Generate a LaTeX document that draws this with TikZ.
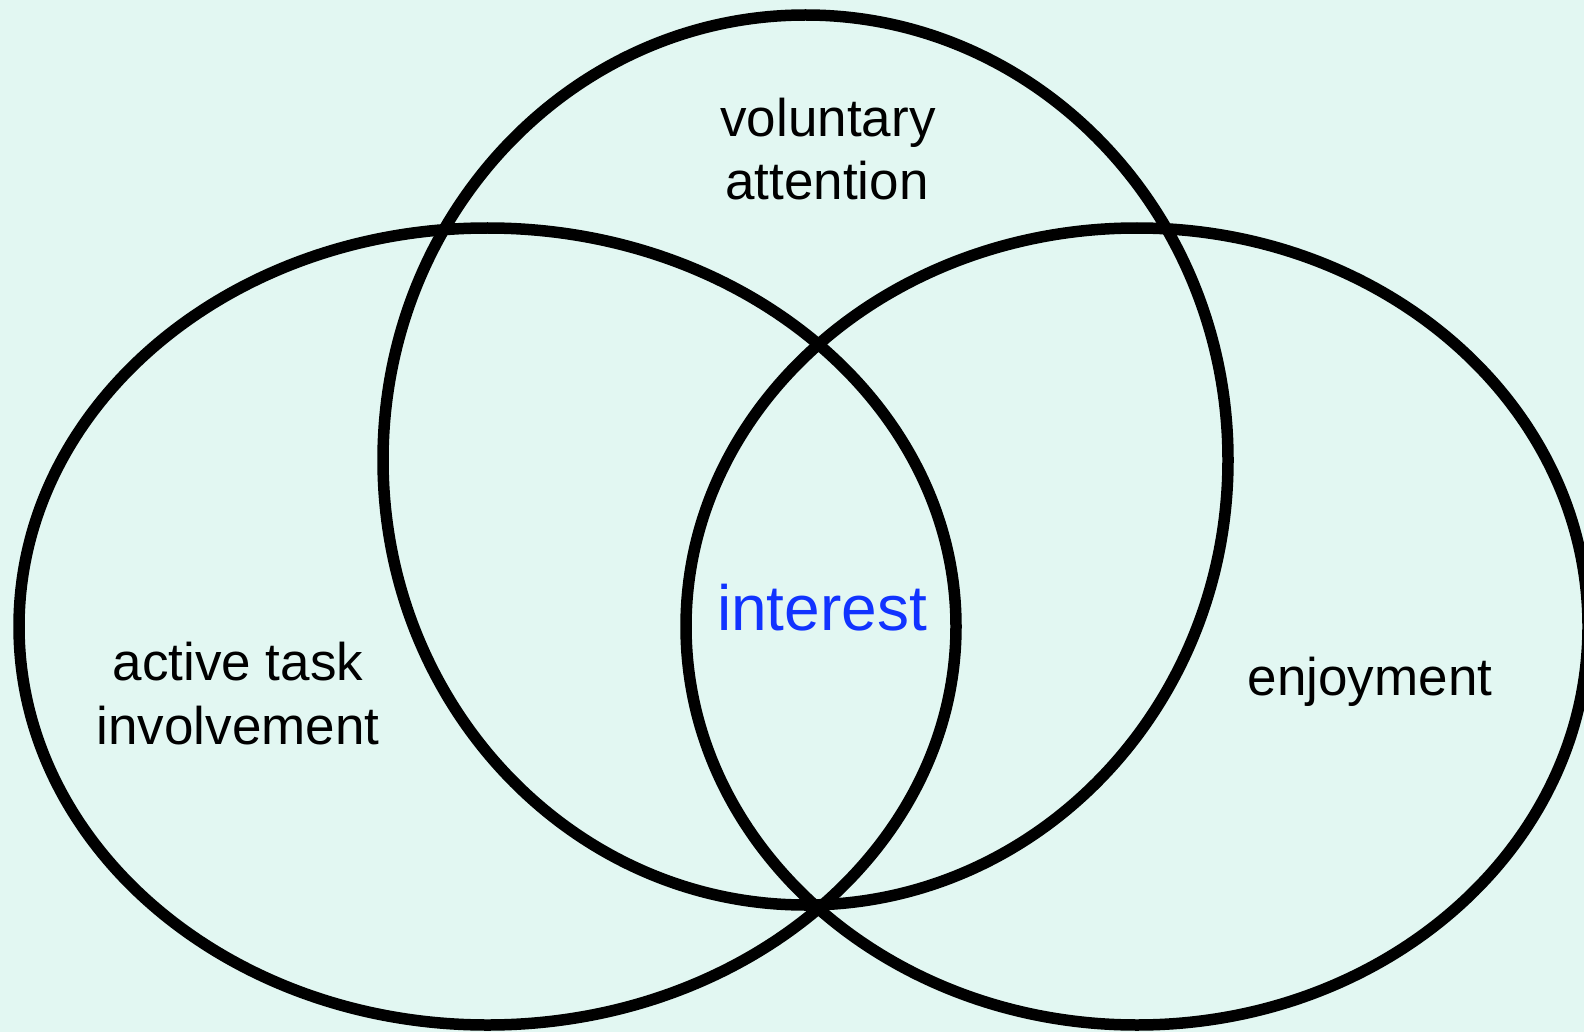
\documentclass[tikz,border=0pt]{standalone}
\usepackage{fontspec}
\setmainfont{Liberation Sans}
\definecolor{bgmint}{RGB}{226,247,242}
\definecolor{intblue}{RGB}{17,51,255}
\begin{document}
\begin{tikzpicture}[x=1pt,y=-1pt,
  ring/.style={draw=black,line width=11.5pt},
  lbl/.style={anchor=base,inner sep=0pt,font=\fontsize{53}{62}\selectfont,text=black},
  keylbl/.style={anchor=base,inner sep=0pt,font=\fontsize{64}{74}\selectfont,text=intblue}]
\fill[bgmint] (0,0) rectangle (1584,1032);
\useasboundingbox (0,0) rectangle (1584,1032);
\clip (0,0) rectangle (1584,1032);
\coordinate (cl) at (487.5,626.5);
\coordinate (cr) at (1137,626.5);
\coordinate (ct) at (805.5,460);
\draw[ring] (cl) ellipse [x radius=468.5, y radius=398.5];
\draw[ring] (cr) ellipse [x radius=451, y radius=398.5];
\draw[ring] (ct) ellipse [x radius=422.5, y radius=445];
\node[lbl] (v1) at (828,137) {voluntary};
\node[lbl] (v2) at (827,200) {attention};
\node[lbl] (a1) at (238,680) {active task};
\node[lbl] (a2) at (238,744) {involvement};
\node[lbl] (en) at (1370,695) {enjoyment};
\node[keylbl] (in) at (822,630) {interest};
\end{tikzpicture}
\end{document}
